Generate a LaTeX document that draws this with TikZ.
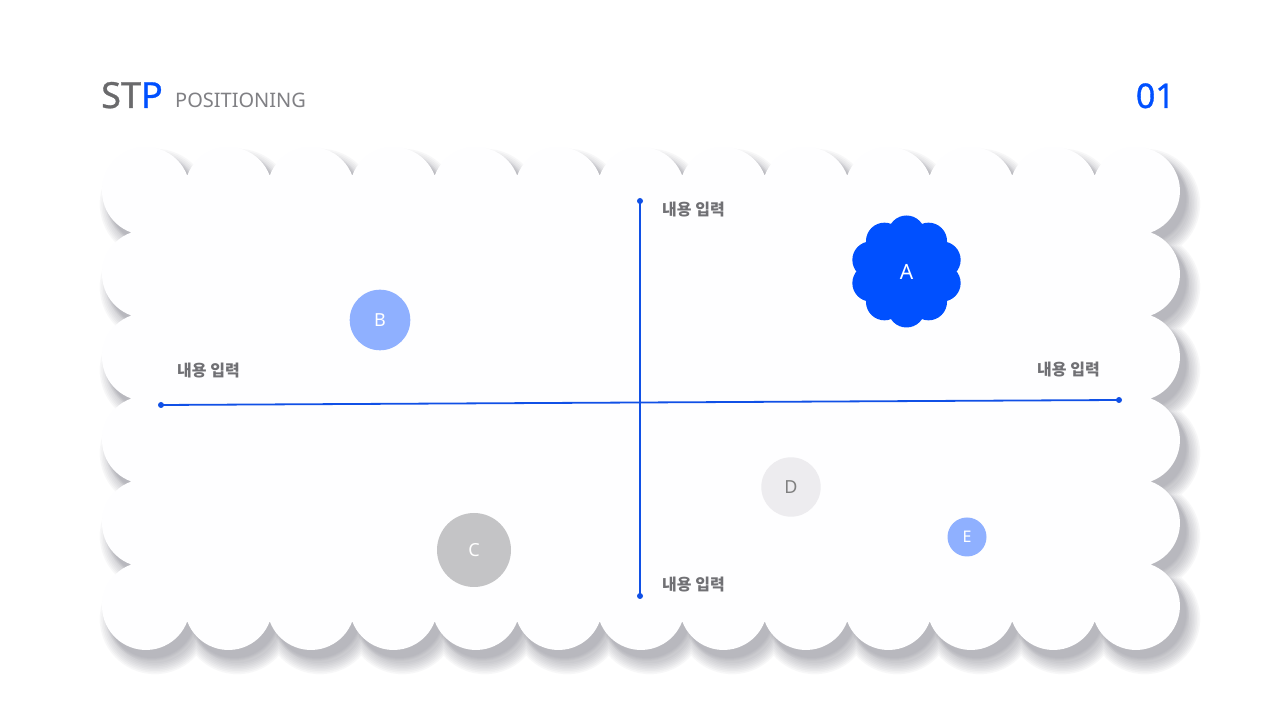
\documentclass[tikz,border=0pt]{standalone}
\usepackage{fontspec}
\setmainfont{Noto Sans}
\newfontfamily\kr{Noto Sans CJK KR}
\newfontfamily\medium{Noto Sans}[FakeBold=0.9]
\usetikzlibrary{calc}
\definecolor{mainblue}{RGB}{0,80,255}
\definecolor{axisblue}{RGB}{16,80,230}
\definecolor{lightblue}{RGB}{143,176,255}
\definecolor{cgray}{RGB}{196,196,198}
\definecolor{dgray}{RGB}{237,236,239}
\definecolor{titlegray}{RGB}{106,106,108}
\definecolor{subgray}{RGB}{128,128,132}
\definecolor{labgray}{RGB}{112,112,116}
\definecolor{shadowcol}{RGB}{110,110,124}
\definecolor{shapefill}{RGB}{254,254,255}
\newcommand\scallop[2]{%
  \pgfmathsetmacro\RR{#1}%
  \pgfmathsetmacro\hth{acos(41.25/\RR)}%
  \pgfmathsetmacro\vph{asin(41.5/\RR)}%
  \fill[#2] (146,529) ++(180+\vph:\RR pt)
    arc[start angle=180+\vph, end angle=\hth, radius=\RR pt]
    \foreach \i in {1,...,11}{arc[start angle=180-\hth, end angle=\hth, radius=\RR pt]}
    arc[start angle=180-\hth, end angle=-\vph, radius=\RR pt]
    \foreach \i in {1,...,4}{arc[start angle=\vph, end angle=-\vph, radius=\RR pt]}
    arc[start angle=\vph, end angle=-180+\hth, radius=\RR pt]
    \foreach \i in {1,...,11}{arc[start angle=-\hth, end angle=-180+\hth, radius=\RR pt]}
    arc[start angle=-\hth, end angle=-180-\vph, radius=\RR pt]
    \foreach \i in {1,...,4}{arc[start angle=-180+\vph, end angle=-180-\vph, radius=\RR pt]}
    -- cycle;}
\tikzset{
  dotnode/.style={circle, fill=axisblue, inner sep=0pt, minimum size=6pt},
  axisline/.style={draw=axisblue, line width=1.8pt},
  lab/.style={font=\kr\bfseries\fontsize{16}{16}\selectfont, text=labgray, inner sep=0pt, anchor=west},
  bubble/.style={circle, inner sep=0pt, font=\fontsize{18}{18}\selectfont},
}
\begin{document}
\begin{tikzpicture}[x=1pt,y=1pt]
\useasboundingbox (0,0) rectangle (1280,720);
\fill[white] (0,0) rectangle (1280,720);
% shadow
\foreach \k in {0,...,7}{\scallop{44+1.6*\k}{shadowcol, opacity=0.05, shift={(9,-13)}}}
\foreach \k in {0,...,3}{\scallop{44+\k}{shadowcol, opacity=0.05, shift={(6,-8)}}}
% card
\scallop{44}{shapefill}
% title
\node[font=\medium\fontsize{36}{36}\selectfont, anchor=base west, inner sep=0pt, text=titlegray] (stp) at (101,612) {ST\textcolor{mainblue}{P}};
\node[font=\fontsize{20}{20}\selectfont, anchor=base west, inner sep=0pt, text=subgray] (pos) at (175,612) {POSITIONING};
\node[font=\medium\fontsize{34}{34}\selectfont, anchor=base east, inner sep=0pt, text=mainblue] (num) at (1175,612) {01};
% axes
\node[dotnode] (hl) at (161,315) {};
\node[dotnode] (hr) at (1119,320) {};
\node[dotnode] (vt) at (640,519) {};
\node[dotnode] (vb) at (640,124) {};
\draw[axisline] (hl.center) -- (hr.center);
\draw[axisline] (vt.center) -- (vb.center);
% labels
\node[lab] (lt) at (662,510.5) {내용 입력};
\node[lab] (lb) at (662,135) {내용 입력};
\node[lab] (ll) at (177,349) {내용 입력};
\node[lab] (lr) at (1037,350) {내용 입력};
% flower A
\fill[mainblue] (906.5,448.5) circle[radius=44pt]
  \foreach \a in {0,...,9}{ ($(906.5,448.5)+(90+36*\a:37.5)$) circle[radius=18.5pt] };
\node[font=\fontsize{21}{21}\selectfont, text=white, inner sep=0pt] (A) at (906.5,448.5) {A};
% bubbles
\node[bubble, fill=lightblue, minimum size=60.6pt, text=white] (B) at (380,400) {B};
\node[bubble, fill=cgray, minimum size=74pt, text=white] (C) at (474,170) {C};
\node[bubble, fill=dgray, minimum size=59.4pt, text=gray] (D) at (791,233) {D};
\node[bubble, fill=lightblue, minimum size=39pt, text=white, font=\fontsize{16}{16}\selectfont] (E) at (967,183) {E};
\end{tikzpicture}
\end{document}
